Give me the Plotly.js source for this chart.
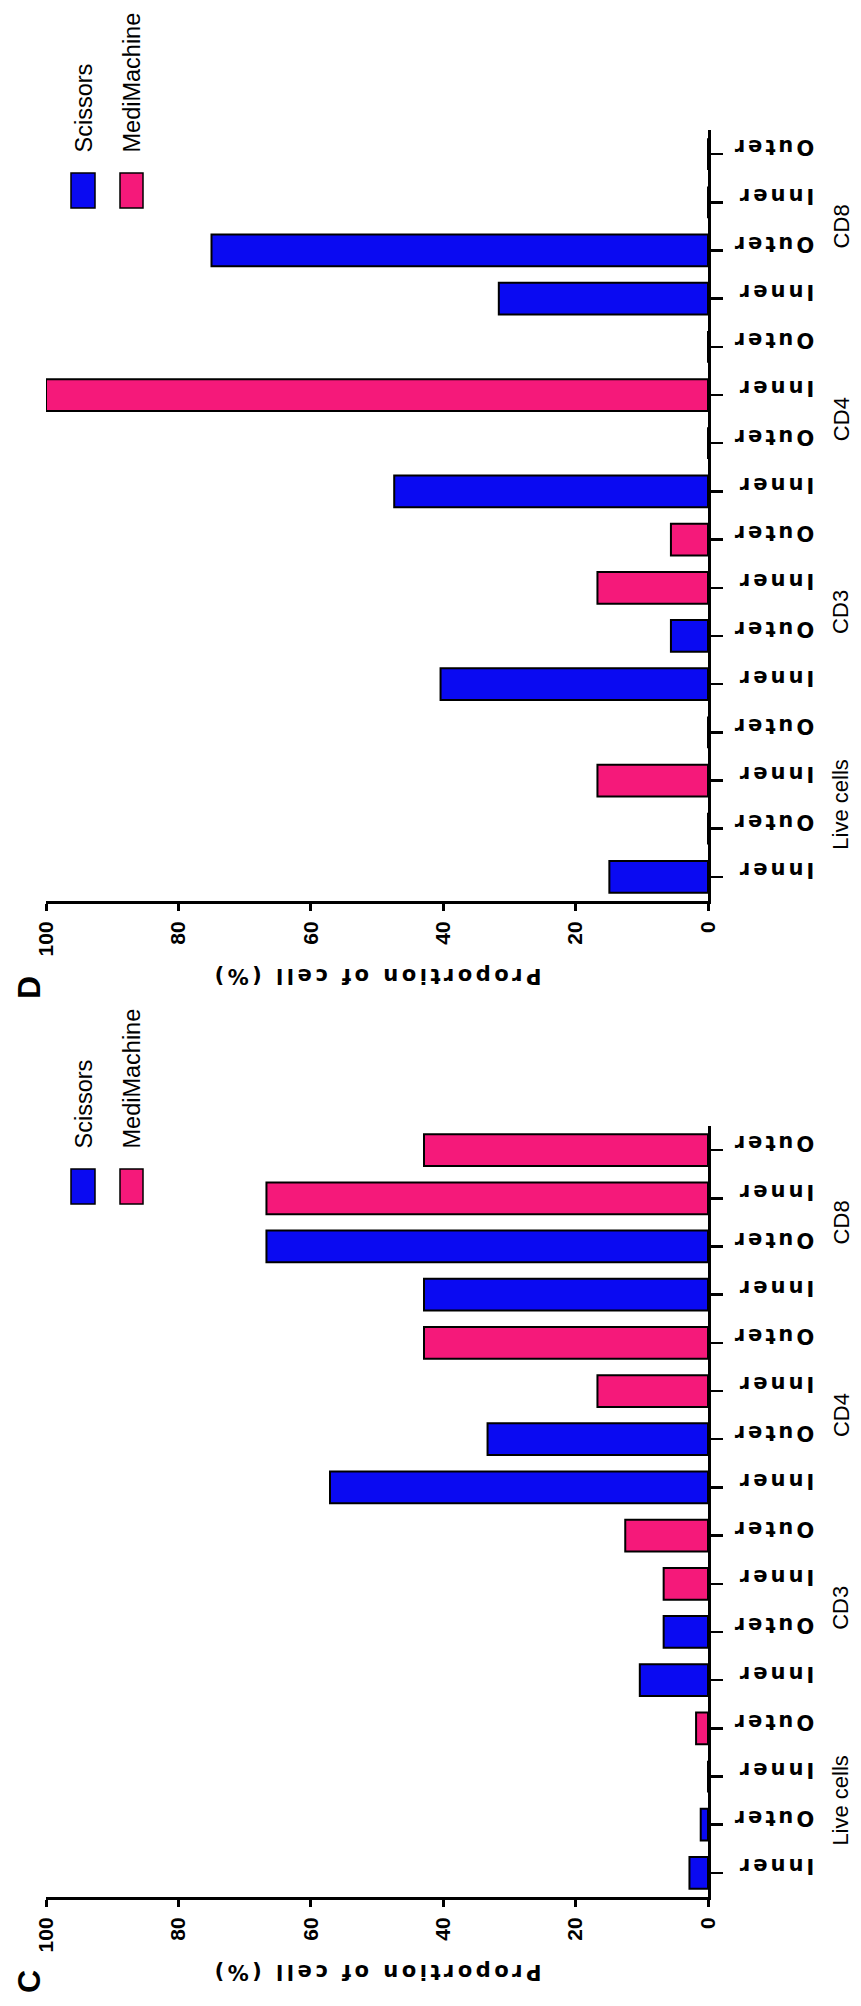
<!DOCTYPE html>
<html>
<head>
<meta charset="utf-8">
<script src="https://cdn.plot.ly/plotly-3.0.1.min.js"></script>
<style>
html,body{margin:0;padding:0;background:#ffffff;}
#chart{width:861px;height:2006px;}
</style>
</head>
<body>
<div id="chart"></div>
<script>
// ---------------- data ----------------
const groups = ["Live cells", "CD3", "CD4", "CD8"];
const methods = ["Scissors", "MediMachine"];
const sites = ["Inner", "Outer"];
const tickLabels = ["Inner","Outer","Inner","Outer",
                    "Inner","Outer","Inner","Outer",
                    "Inner","Outer","Inner","Outer",
                    "Inner","Outer","Inner","Outer"];
// order: Live Inner, Live Outer, CD3 Inner, CD3 Outer, CD4 Inner, CD4 Outer, CD8 Inner, CD8 Outer
const panelC_Scissors    = [2.8, 1.1, 10.3, 6.7, 57.1, 33.3, 42.9, 66.7];
const panelC_MediMachine = [0.0, 1.8, 6.7, 12.5, 16.7, 42.9, 66.7, 42.9];
const panelD_Scissors    = [14.9, 0.0, 40.4, 5.6, 47.4, 0.0, 31.6, 75.0];
const panelD_MediMachine = [16.7, 0.0, 16.7, 5.6, 100.0, 0.0, 0.0, 0.0];
const valueTicks = [0, 20, 40, 60, 80, 100];
const axisTitle = "Proportion of cell (%)";

// ---------------- styling ----------------
const W = 861, H = 2006;
const colors = {Scissors: "#0A0AF2", MediMachine: "#F5197A"};
const px = p => p / W;
const py = p => 1 - p / H;
const SANS = "Liberation Sans, Arial, sans-serif";

const panels = [
  {letter: "D", data: {Scissors: panelD_Scissors, MediMachine: panelD_MediMachine},
   xa: "x", ya: "y", top: 130, bottom: 901},
  {letter: "C", data: {Scissors: panelC_Scissors, MediMachine: panelC_MediMachine},
   xa: "x2", ya: "y2", top: 1126, bottom: 1897}
];

function positions(mi) {
  const out = [];
  groups.forEach((g, gi) => sites.forEach((s, si) => out.push(gi * 4 + mi * 2 + si)));
  return out;
}

const traces = [];
panels.forEach(p => {
  methods.forEach((m, mi) => {
    traces.push({
      type: "bar", orientation: "h",
      name: m,
      x: p.data[m], y: positions(mi),
      xaxis: p.xa, yaxis: p.ya,
      width: 0.66,
      marker: {color: colors[m], line: {color: "#000000", width: 2}},
      hoverinfo: "x"
    });
  });
});

const tickIdx = tickLabels.map((t, i) => i);
const xDomain = [px(46), px(708)];

function xAxis(anchor) {
  return {
    domain: xDomain, anchor: anchor, range: [100, 0], autorange: false,
    showline: true, linewidth: 3, linecolor: "#000",
    ticks: "outside", ticklen: 7, tickwidth: 3, tickcolor: "#000",
    tickvals: valueTicks, tickangle: -90, ticklabelstandoff: 2,
    tickfont: {family: SANS, size: 21, color: "#000", weight: "bold"},
    showgrid: false, zeroline: false, fixedrange: true
  };
}
function yAxis(anchor, top, bottom) {
  return {
    domain: [py(bottom), py(top)], anchor: anchor, side: "right",
    range: [-0.5, 15.5], autorange: false,
    showline: true, linewidth: 3, linecolor: "#000",
    ticks: "outside", ticklen: 12, tickwidth: 2.5, tickcolor: "#000",
    tickvals: tickIdx, ticktext: tickLabels, tickangle: 180,
    ticklabelstandoff: 87,
    tickfont: {family: "DejaVu Sans, sans-serif", size: 21, color: "#000", weight: "bold"},
    showgrid: false, zeroline: false, fixedrange: true
  };
}

const annotations = [];
const shapes = [];
const titleY = {D: 976, C: 1972};
const letterY = {D: 988, C: 1982};
panels.forEach(p => {
  // axis title (upside down)
  annotations.push({
    text: axisTitle, xref: "paper", yref: "paper", x: px(377), y: py(titleY[p.letter]),
    xanchor: "center", yanchor: "middle", textangle: 180, showarrow: false,
    font: {family: "DejaVu Sans, sans-serif", size: 21, color: "#000", weight: "bold"}
  });
  // panel letter
  annotations.push({
    text: p.letter, xref: "paper", yref: "paper", x: px(29), y: py(letterY[p.letter]),
    xanchor: "center", yanchor: "middle", textangle: -90, showarrow: false,
    font: {family: SANS, size: 32, color: "#000", weight: "bold"}
  });
  // group labels
  groups.forEach((g, gi) => {
    annotations.push({
      text: g, xref: "paper", yref: p.ya, x: px(841), y: gi * 4 + 1.5,
      xanchor: "center", yanchor: "middle", textangle: -90, showarrow: false,
      font: {family: SANS, size: 22, color: "#000"}
    });
  });
  // legend
  const legX = [[71, 95], [120, 143]];
  methods.forEach((m, mi) => {
    shapes.push({
      type: "rect", xref: "paper", yref: "paper",
      x0: px(legX[mi][0]), x1: px(legX[mi][1]),
      y0: py(p.top + 43), y1: py(p.top + 78),
      fillcolor: colors[m], line: {color: "#000", width: 1.5}
    });
    annotations.push({
      text: m, xref: "paper", yref: "paper",
      x: px((legX[mi][0] + legX[mi][1]) / 2), y: py(p.top + 25),
      xanchor: "center", yanchor: "bottom", textangle: -90, showarrow: false,
      font: {family: SANS, size: 23.5, color: "#000"}
    });
  });
});

const layout = {
  width: W, height: H,
  margin: {l: 0, r: 0, t: 0, b: 0},
  paper_bgcolor: "#ffffff", plot_bgcolor: "#ffffff",
  showlegend: false, barmode: "overlay",
  xaxis: xAxis("y"), yaxis: yAxis("x", 130, 901),
  xaxis2: xAxis("y2"), yaxis2: yAxis("x2", 1126, 1897),
  annotations: annotations, shapes: shapes
};

Plotly.newPlot("chart", traces, layout, {staticPlot: true, displayModeBar: false}).then(gd => {
  // widen letter spacing like the reference typography
  gd.querySelectorAll(".yaxislayer-above text, .y2axislayer-above text").forEach(t => {
    t.style.letterSpacing = "3px";
  });
  gd.querySelectorAll(".annotation-text").forEach(t => {
    if (t.textContent === axisTitle) t.style.letterSpacing = "3.5px";
  });
});
</script>
</body>
</html>
